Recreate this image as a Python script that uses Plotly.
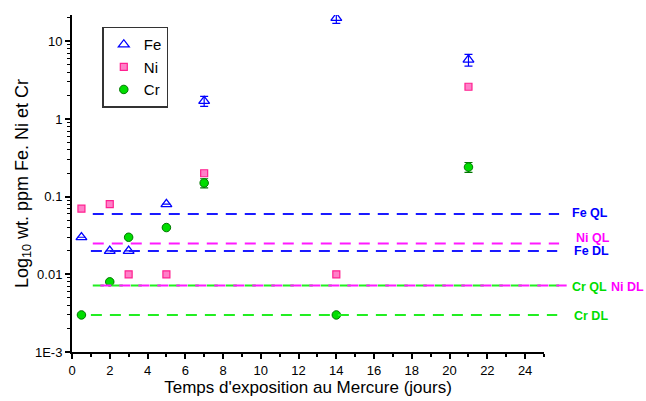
import numpy as np
import plotly.graph_objects as go

days = [0.5, 2, 3, 5, 7, 14, 21]
fe = [0.03, 0.02, 0.02, 0.08, 1.7, 20, 5.8]
fe_err = [0, 0, 0, 0, 0.25, 3, 1.0]
ni = [0.07, 0.08, 0.01, 0.01, 0.2, 0.01, 2.6]
cr = [0.003, 0.008, 0.03, 0.04, 0.15, 0.003, 0.24]
cr_err = [0, 0, 0, 0, 0.02, 0, 0.035]

limit_names = ["Fe QL", "Ni QL", "Fe DL", "Cr QL", "Ni DL", "Cr DL"]
limit_values = [0.06, 0.025, 0.02, 0.0072, 0.0072, 0.003]
limit_start = [1.1, 1.1, 1.0, 1.1, 1.5, 1.0]
limit_end = [25.8, 25.8, 25.7, 25.8, 26.2, 25.7]
limit_colors = ["#1a1aff", "#ff1aff", "#1a1aff", "#22ee22", "#ff1aff", "#22ee22"]
label_colors = ["#0000ff", "#ff00ff", "#0000ff", "#00dd00", "#ff00ff", "#00dd00"]
label_x = [26.4, 26.58, 26.49, 26.37, 28.45, 26.46]
label_y = [0.0611, 0.0291, 0.0202, 0.00683, 0.00683, 0.00292]

y_tickvals = [0.001, 0.01, 0.1, 1, 10]
y_ticktext = ["1E-3", "0.01", "0.1", "1", "10"]

W, H = 646, 401
ml, mt, mb = 72, 15, 49
plot_w = W - ml
axis_px = 472
xmax = 25
xfrac = axis_px / plot_w
x2max = xmax / xfrac

fig = go.Figure()

# limit lines on a second, wider x axis (same scale, larger clip region)
for n, v, s, e, c in zip(limit_names, limit_values, limit_start, limit_end, limit_colors):
    fig.add_trace(go.Scatter(x=[s, e], y=[v, v], mode="lines", xaxis="x2", yaxis="y",
                             line=dict(color=c, width=2, dash="11px,8px"),
                             showlegend=False, hoverinfo="skip"))

fig.add_trace(go.Scatter(x=days, y=fe, mode="markers", name="Fe",
                         marker=dict(symbol="triangle-up-open", size=9.5, color="#0000ff",
                                     line=dict(width=1.3, color="#0000ff")),
                         error_y=dict(type="data", array=fe_err, visible=True,
                                      color="#0000ff", thickness=1.2, width=4)))
fig.add_trace(go.Scatter(x=days, y=ni, mode="markers", name="Ni",
                         marker=dict(symbol="square", size=7, color="#ff80c8",
                                     line=dict(width=1.2, color="#ff2090"))))
fig.add_trace(go.Scatter(x=days, y=cr, mode="markers", name="Cr",
                         marker=dict(symbol="circle", size=8.5, color="#00dd00",
                                     line=dict(width=1, color="#007700")),
                         error_y=dict(type="data", array=cr_err, visible=True,
                                      color="#007700", thickness=1.2, width=4)))

for n, lx, ly, c in zip(limit_names, label_x, label_y, label_colors):
    fig.add_annotation(x=lx, y=np.log10(ly), xref="x2", yref="y", text="<b>" + n + "</b>",
                       showarrow=False, xanchor="left", yanchor="middle",
                       font=dict(color=c, size=12.5, family="Liberation Sans, Arial"))

minor_vals = [m * 10.0 ** k for k in range(-3, 2) for m in range(2, 10)]

fig.update_layout(
    width=W, height=H,
    margin=dict(l=ml, r=0, t=mt, b=mb),
    plot_bgcolor="rgba(0,0,0,0)", paper_bgcolor="white",
    font=dict(family="Liberation Sans, Arial", size=13, color="black"),
    xaxis=dict(domain=[0, xfrac], range=[0, xmax], showline=True, linecolor="black",
               linewidth=2, ticks="outside", ticklen=5, tickwidth=1.5, tickcolor="black",
               tick0=0, dtick=2, showgrid=False, zeroline=False, anchor="y",
               minor=dict(ticks="outside", ticklen=3, tickwidth=1.5, tickcolor="black", dtick=1),
               title=dict(text="Temps d'exposition au Mercure (jours)", font=dict(size=17),
                          standoff=4),
               tickfont=dict(size=13)),
    xaxis2=dict(domain=[0, 1], range=[0, x2max], anchor="y",
                visible=False, showgrid=False, zeroline=False),
    yaxis=dict(type="log", range=[-3, np.log10(21.8)], showline=True, linecolor="black",
               linewidth=2, ticks="outside", ticklen=5, tickwidth=1.5, tickcolor="black",
               tickmode="array", tickvals=y_tickvals, ticktext=y_ticktext,
               showgrid=False, zeroline=False, anchor="x",
               minor=dict(ticks="outside", ticklen=3, tickwidth=1, tickcolor="black",
                          tickmode="array", tickvals=minor_vals),
               title=dict(text="Log<sub>10</sub> wt. ppm Fe. Ni et Cr", font=dict(size=18),
                          standoff=2),
               tickfont=dict(size=13)),
    legend=dict(x=(102.3 - ml) / plot_w, y=1 - (26.7 - mt) / (H - mt - mb),
                xanchor="left", yanchor="top", bordercolor="#333333", borderwidth=1.5,
                bgcolor="white", font=dict(size=15)),
)

fig.write_html("out.html")
